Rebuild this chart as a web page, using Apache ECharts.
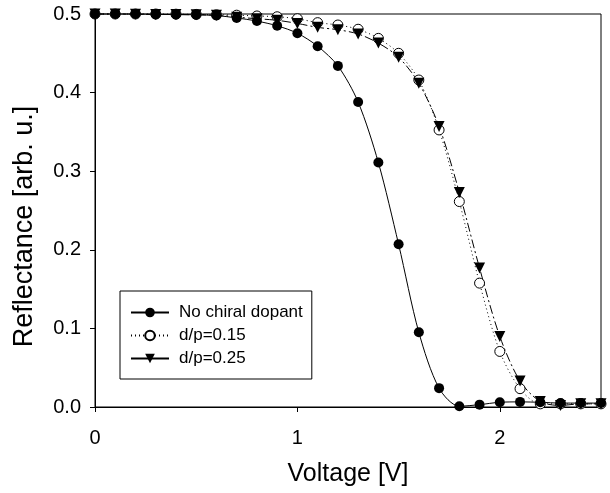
<!DOCTYPE html>
<html>
<head>
<meta charset="utf-8">
<script src="https://cdn.jsdelivr.net/npm/echarts@6/dist/echarts.min.js"></script>
<style>
  html, body { margin: 0; padding: 0; background: #fff; }
  #chart { width: 610px; height: 493px; }
</style>
</head>
<body>
<div id="chart"></div>
<script>
'use strict'
var voltage = [0, 0.1, 0.2, 0.3, 0.4, 0.5, 0.6, 0.7, 0.8, 0.9, 1.0, 1.1, 1.2,
    1.3, 1.4, 1.5, 1.6, 1.7, 1.8, 1.9, 2.0, 2.1, 2.2, 2.3, 2.4, 2.5];
var noDopant = [0.5, 0.5, 0.5, 0.4995, 0.4993, 0.499, 0.498, 0.495, 0.491, 0.485,
    0.4755, 0.459, 0.434, 0.388, 0.311, 0.207, 0.095, 0.024, 0.001, 0.003,
    0.006, 0.0065, 0.006, 0.005, 0.005, 0.005];
var dp015 = [0.5, 0.5, 0.5, 0.5, 0.4998, 0.4995, 0.499, 0.4985, 0.4975, 0.4965,
    0.494, 0.489, 0.486, 0.4806, 0.469, 0.45, 0.416, 0.3525, 0.2614, 0.1576,
    0.0707, 0.0233, 0.004, 0.004, 0.004, 0.004];
var dp025 = [0.5, 0.5, 0.4997, 0.4995, 0.4993, 0.499, 0.4985, 0.496, 0.494, 0.492,
    0.488, 0.483, 0.48, 0.4746, 0.463, 0.445, 0.412, 0.357, 0.273, 0.1767,
    0.0898, 0.033, 0.007, 0.002, 0.004, 0.004];
var seriesNames = ['No chiral dopant', 'd/p=0.15', 'd/p=0.25'];

function pairs(ys) {
    return voltage.map(function (x, i) { return [x, ys[i]]; });
}

var chart = echarts.init(document.getElementById('chart'));
var font = 'Liberation Sans, Arial, sans-serif';

var option = {
    animation: false,
    grid: {
        left: 95,
        right: 9,
        top: 14,
        bottom: 86,
        show: true,
        borderColor: '#000',
        borderWidth: 1
    },
    legend: {
        data: [
            seriesNames[0],
            seriesNames[1],
            { name: seriesNames[2], lineStyle: { type: 'solid' } }
        ],
        orient: 'vertical',
        left: 120,
        top: 291,
        padding: [13, 9, 12, 10],
        itemWidth: 38,
        itemHeight: 12,
        itemGap: 6,
        borderColor: '#000',
        borderWidth: 1,
        backgroundColor: '#fff',
        textStyle: {
            fontFamily: font,
            fontSize: 17,
            color: '#000',
            padding: [0, 0, 0, 5]
        }
    },
    xAxis: {
        type: 'value',
        min: 0,
        max: 2.5,
        interval: 1,
        name: 'Voltage [V]',
        nameLocation: 'middle',
        nameGap: 55,
        nameTextStyle: { fontFamily: font, fontSize: 25, color: '#000' },
        axisLine: { lineStyle: { color: '#000', width: 1 } },
        axisTick: { show: true, length: 5, lineStyle: { color: '#000' } },
        axisLabel: {
            fontFamily: font, fontSize: 20, color: '#000', margin: 21,
            showMaxLabel: false
        },
        splitLine: { show: false }
    },
    yAxis: {
        type: 'value',
        min: 0,
        max: 0.5,
        interval: 0.1,
        name: 'Reflectance [arb. u.]',
        nameLocation: 'middle',
        nameGap: 57,
        nameTextStyle: {
            fontFamily: font, fontSize: 27, color: '#000',
            padding: [0, 32, 0, 0]
        },
        axisLine: { show: true, lineStyle: { color: '#000', width: 1 } },
        axisTick: { show: true, length: 5, lineStyle: { color: '#000' } },
        axisLabel: {
            fontFamily: font,
            fontSize: 20,
            color: '#000',
            margin: 14,
            formatter: function (v) { return v.toFixed(1); }
        },
        splitLine: { show: false }
    },
    series: [
        {
            name: 'd/p=0.15',
            type: 'line',
            data: pairs(dp015),
            smooth: 0.3,
            clip: false,
            symbol: 'circle',
            symbolSize: 10,
            itemStyle: { color: '#fff', borderColor: '#000', borderWidth: 1 },
            lineStyle: { color: '#000', width: 1, type: [1, 3] }
        },
        {
            name: 'No chiral dopant',
            type: 'line',
            data: pairs(noDopant),
            smooth: 0.3,
            clip: false,
            symbol: 'circle',
            symbolSize: 10,
            itemStyle: { color: '#000' },
            lineStyle: { color: '#000', width: 1 }
        },
        {
            name: 'd/p=0.25',
            type: 'line',
            data: pairs(dp025),
            smooth: 0.3,
            clip: false,
            symbol: 'triangle',
            symbolRotate: 180,
            symbolSize: 11,
            itemStyle: { color: '#000' },
            lineStyle: { color: '#000', width: 1, type: [9, 3, 2, 3] }
        }
    ]
};

chart.setOption(option);
</script>
</body>
</html>
